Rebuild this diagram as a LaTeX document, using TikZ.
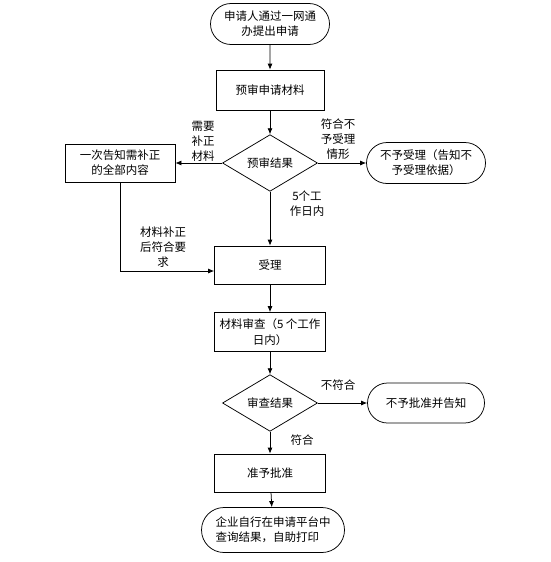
\documentclass[tikz,border=0pt]{standalone}
\usepackage{fontspec}
\setmainfont{Noto Sans CJK SC}
\usetikzlibrary{shapes.geometric,shapes.misc,arrows.meta}
\tikzstyle{every node}=[font=\fontsize{11.5}{15}\selectfont,align=center]
\tikzstyle{stadium}=[draw,rounded rectangle,minimum height=41pt,minimum width=123pt,inner sep=2pt]
\tikzstyle{box}=[draw,rectangle,minimum width=111pt,minimum height=38pt]
\tikzstyle{choice}=[draw,diamond,minimum width=95pt,minimum height=55pt,inner sep=0pt]
\tikzstyle{tag}=[inner sep=0pt]
\tikzstyle{flow}=[-{Latex[length=6pt,width=5pt]}]

\begin{document}
\begin{tikzpicture}[x=1pt,y=-1pt,line width=0.75pt]
    \useasboundingbox (0,0) rectangle (550,562);
    \node[stadium] (start) at (270,24) {申请人通过一网通\\办提出申请};
    \node[box,minimum width=108pt,minimum height=40pt] (pre) at (270,90) {预审申请材料};
    \node[choice] (check) at (270,163) {预审结果};
    \node[box,minimum width=110pt] (notice) at (120,163) {一次告知需补正\\的全部内容};
    \node[stadium] (refuse) at (426,163) {不予受理（告知不\\予受理依据）};
    \node[box] (accept) at (270,265) {受理};
    \node[box,minimum height=39pt,font=\fontsize{11.5}{16}\selectfont] (review) at (270,332) {材料审查（5 个工作\\日内）};
    \node[choice] (result) at (270,403) {审查结果};
    \node[stadium,minimum width=121pt,minimum height=40pt] (deny) at (426,403) {不予批准并告知};
    \node[stadium,minimum width=147pt,minimum height=45pt,align=left] (final) at (273,530) {企业自行在申请平台中\\查询结果，自助打印};
    \node[box] (approve) at (270,473) {准予批准};

    % labels on the connectors
    \node[tag] (needfix) at (203,141) {需要\\补正\\材料};
    \node[tag] (nofit) at (338,139) {符合不\\予受理\\情形};
    \node[tag] (days) at (307,204) {5个工\\作日内};
    \node[tag] (fixed) at (163,247) {材料补正\\后符合要\\求};
    \node[tag] (fail) at (338,385) {不符合};
    \node[tag] (pass) at (302,440) {符合};

    \draw[flow] (start) -- (pre);
    \draw[flow] (pre) -- (check);
    \draw[flow] (check.west) -- (notice.east);
    \draw[flow] (check.east) -- (refuse.west);
    \draw[flow] (check.south) -- (accept.north);
    \draw[flow] (notice.south) |- ([yshift=-6pt]accept.west);
    \draw[flow] (accept) -- (review);
    \draw[flow] (review) -- (result);
    \draw[flow] (result.east) -- (deny.west);
    \draw[flow] (result.south) -- (approve.north);
    \draw[flow] (approve) -- (final);
\end{tikzpicture}
\end{document}
